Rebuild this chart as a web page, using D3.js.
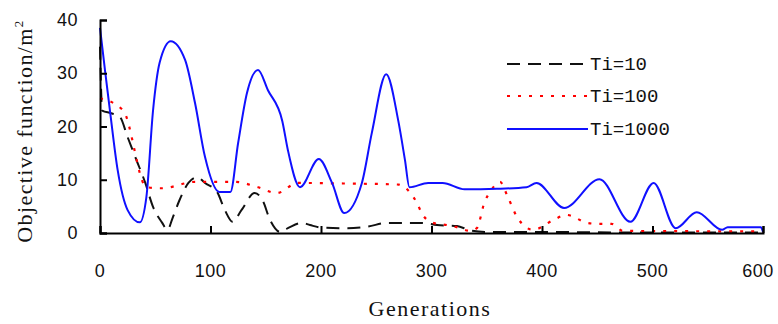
<!DOCTYPE html>
<html>
<head>
<meta charset="utf-8">
<script src="https://cdn.jsdelivr.net/npm/d3@7"></script>
<style>
  body { margin: 0; background: #fff; }
  svg { display: block; }
</style>
</head>
<body>
<div id="chart"></div>
<script>
// Ti=10 (black dashed)
const gen10 = [0, 2, 10, 18, 25, 33, 41, 48, 56, 61, 66, 72, 80, 88, 95, 106, 113, 120, 128, 140, 147, 154, 163, 170, 183, 190, 201, 224, 242, 260, 291, 305, 323, 335, 350, 400, 470, 600];
const val10 = [35, 23, 22.5, 21.8, 18, 13.7, 9.4, 4.9, 2, 0.6, 3, 6.2, 9.4, 10.5, 9.4, 7.7, 4.3, 2.1, 4.3, 7.5, 6.2, 2.4, 0.2, 0.9, 1.9, 1.5, 1, 0.9, 1.2, 1.9, 1.9, 1.5, 1.3, 0.5, 0.2, 0.2, 0.1, 0.1];
// Ti=100 (red dotted)
const gen100 = [0, 21, 42, 56, 86, 122, 143, 160, 179, 220, 270, 281, 287, 292, 303, 314, 321, 335, 341, 348, 353, 362, 369, 378, 392, 410, 422, 441, 452, 463, 473, 600];
const val100 = [25.3, 23, 8.6, 8.4, 9.6, 9.6, 8.6, 7.5, 9.4, 9.3, 9.1, 7.5, 5.6, 3.4, 1.8, 1.5, 1.2, 0.4, 0.9, 5.8, 7.7, 9.6, 6.8, 2.8, 0.6, 2.4, 3.4, 1.9, 1.7, 1.7, 0.4, 0.3];
// Ti=1000 (blue solid)
const gen1000 = [0, 4.5, 9, 16, 25, 36, 42, 48, 54, 64, 77, 86, 95, 108, 118, 125, 133, 143, 152, 165, 170, 181, 198, 210, 221, 237, 246, 259, 270, 276, 280, 297, 310, 330, 359, 386, 395, 420, 452, 480, 501, 521, 540, 563, 568, 598, 600];
const val1000 = [38.5, 30.6, 23, 11.8, 4.3, 2, 6.8, 23, 32, 36, 32.5, 24.4, 14.3, 7.7, 7.7, 16.9, 26.3, 30.6, 26.8, 21, 15.6, 8.6, 13.9, 9.4, 3.75, 9.4, 18.8, 29.8, 21, 13.7, 8.6, 9.4, 9.4, 8.2, 8.3, 8.6, 9.4, 4.7, 10.1, 2.1, 9.4, 0.9, 3.9, 0.6, 1.1, 1.1, 0.2];

const seriesNames = ['Ti=10', 'Ti=100', 'Ti=1000'];
const xTicks = [0, 100, 200, 300, 400, 500, 600];
const yTicks = [0, 10, 20, 30, 40];

const W = 778, H = 324;
const x0 = 100, x1 = 763, y0 = 233, y1 = 20;

const series = [
  { name: seriesNames[0], gens: gen10, vals: val10, color: '#111', width: 2, dash: '13,8' },
  { name: seriesNames[1], gens: gen100, vals: val100, color: '#ff0000', width: 2.2, dash: '3,8' },
  { name: seriesNames[2], gens: gen1000, vals: val1000, color: '#1010ff', width: 2, dash: null }
];

const svg = d3.select('#chart').append('svg')
  .attr('width', W)
  .attr('height', H);

const x = d3.scaleLinear().domain([0, 600]).range([x0, x1]);
const y = d3.scaleLinear().domain([0, 40]).range([y0, y1]);

// lines
const line = d3.line()
  .x(d => x(d[0]))
  .y(d => y(d[1]))
  .curve(d3.curveMonotoneX);

series.forEach(s => {
  svg.append('path')
    .datum(s.gens.map((g, i) => [g, s.vals[i]]))
    .attr('fill', 'none')
    .attr('stroke', s.color)
    .attr('stroke-width', s.width)
    .attr('stroke-dasharray', s.dash)
    .attr('d', line);
});

// Y axis
const yAxis = svg.append('g')
  .attr('transform', `translate(${x0},0)`)
  .call(d3.axisRight(y).tickValues(yTicks).tickSize(7).tickFormat(''));
yAxis.select('.domain').attr('stroke', '#000').attr('stroke-width', 2);
yAxis.selectAll('.tick line').attr('stroke', '#000').attr('stroke-width', 2);

svg.selectAll('.ylab')
  .data(yTicks)
  .enter().append('text')
  .attr('x', 78)
  .attr('y', d => y(d) + 6)
  .attr('text-anchor', 'end')
  .style('font-family', 'Liberation Sans, sans-serif')
  .style('font-size', '18px')
  .style('letter-spacing', '0.5px')
  .attr('fill', '#111')
  .text(d => d);

// X axis
const xAxis = svg.append('g')
  .attr('transform', `translate(0,${y0})`)
  .call(d3.axisTop(x).tickValues(xTicks).tickSize(7).tickFormat(''));
xAxis.select('.domain').attr('stroke', '#000').attr('stroke-width', 2);
xAxis.selectAll('.tick line').attr('stroke', '#000').attr('stroke-width', 2);

svg.selectAll('.xlab')
  .data(xTicks)
  .enter().append('text')
  .attr('x', d => Math.min(x(d), 758))
  .attr('y', 277)
  .attr('text-anchor', 'middle')
  .style('font-family', 'Liberation Sans, sans-serif')
  .style('font-size', '18px')
  .style('letter-spacing', '0.5px')
  .attr('fill', '#111')
  .text(d => d);

// axis titles
svg.append('text')
  .attr('x', 430)
  .attr('y', 316)
  .attr('text-anchor', 'middle')
  .style('font-family', 'Liberation Serif, serif')
  .style('font-size', '22px')
  .style('letter-spacing', '1.5px')
  .attr('fill', '#111')
  .text('Generations');

const yt = svg.append('text')
  .attr('transform', 'translate(32,131) rotate(-90)')
  .attr('text-anchor', 'middle')
  .style('font-family', 'Liberation Serif, serif')
  .style('font-size', '22px')
  .style('letter-spacing', '1.4px')
  .attr('fill', '#111');
yt.append('tspan').text('Objective function/m');
yt.append('tspan').attr('dy', -9).style('font-size', '13px').text('2');

// legend
const legendY = [64, 96, 129];
series.forEach((s, i) => {
  svg.append('line')
    .attr('x1', 507).attr('x2', 588)
    .attr('y1', legendY[i]).attr('y2', legendY[i])
    .attr('stroke', s.color)
    .attr('stroke-width', s.width)
    .attr('stroke-dasharray', s.dash);
  svg.append('text')
    .attr('x', 590)
    .attr('y', legendY[i] + 6)
    .style('font-family', 'Liberation Mono, monospace')
    .style('font-size', '19px')
    .attr('fill', '#111')
    .text(s.name);
});
</script>
</body>
</html>
